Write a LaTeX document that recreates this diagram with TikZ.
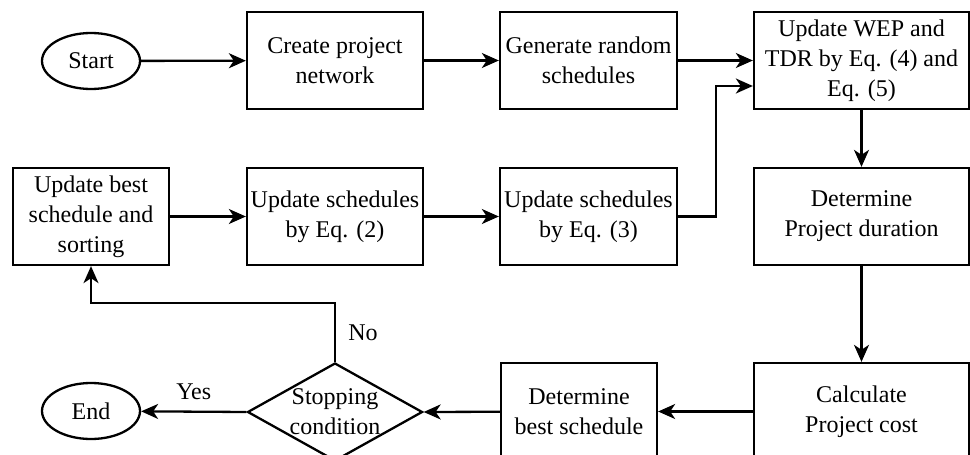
\documentclass[tikz,border=0pt]{standalone}
\usepackage{fontspec}
\setmainfont{Liberation Serif}
\usetikzlibrary{arrows.meta,shapes.geometric}

\begin{document}
\begin{tikzpicture}[
  x=1pt, y=-1pt,
  every node/.style={font=\fontsize{24}{30}\selectfont, align=center, inner sep=0pt},
  procbox/.style={draw, rectangle, line width=2.3pt, minimum height=97pt},
  termnode/.style={draw, ellipse, line width=2.3pt, minimum width=98pt, minimum height=56pt},
  decision/.style={draw, diamond, line width=2.3pt, minimum width=175pt, minimum height=98pt},
  flow/.style={line width=2.3pt, -{Stealth[length=17pt,width=15pt,inset=5pt]}},
  lbl/.style={font=\fontsize{24}{30}\selectfont}
]
\clip (0,0) rectangle (970,455);

% first row
\node[termnode] (start) at (91,61) {Start};
\node[procbox, minimum width=176pt] (create) at (335,60.5) {Create project\\network};
\node[procbox, minimum width=177pt] (generate) at (588.5,60.5) {Generate random\\schedules};
\node[procbox, minimum width=215pt] (wep) at (861.5,60.5) {Update WEP and\\TDR by Eq. (4) and\\Eq. (5)};

% second row
\node[procbox, minimum width=156pt] (upbest) at (91,216.5) {Update best\\schedule and\\sorting};
\node[procbox, minimum width=176pt] (eq2) at (335,216.5) {Update schedules\\by Eq. (2)};
\node[procbox, minimum width=177pt] (eq3) at (588.5,216.5) {Update schedules\\by Eq. (3)};
\node[procbox, minimum width=215pt] (dur) at (861.5,216.5) {Determine\\Project duration};

% third row
\node[termnode] (end) at (91,411) {End};
\node[decision] (stop) at (335,412) {};
\node at (stop) {Stopping\\condition};
\node[procbox, minimum width=156pt] (best) at (579,411.5) {Determine\\best schedule};
\node[procbox, minimum width=215pt] (cost) at (861.5,411.5) {Calculate\\Project cost};

% connectors
\draw[flow] (start) -- (create);
\draw[flow] (create) -- (generate);
\draw[flow] (generate) -- (wep);
\draw[flow] (eq3.east) -- ++(38,0) |- ([yshift=-25.5pt]wep.west);
\draw[flow] (wep) -- (dur);
\draw[flow] (dur) -- (cost);
\draw[flow] (cost) -- (best);
\draw[flow] (best) -- (stop.east);
\draw[flow] (stop.west) -- (end) node[lbl, pos=0.5, yshift=20pt] {Yes};
\draw[flow] (stop.north) -- ++(0,-59) -| (upbest.south);
\node[lbl] at (363,333) {No};
\draw[flow] (upbest) -- (eq2);
\draw[flow] (eq2) -- (eq3);
\end{tikzpicture}
\end{document}
